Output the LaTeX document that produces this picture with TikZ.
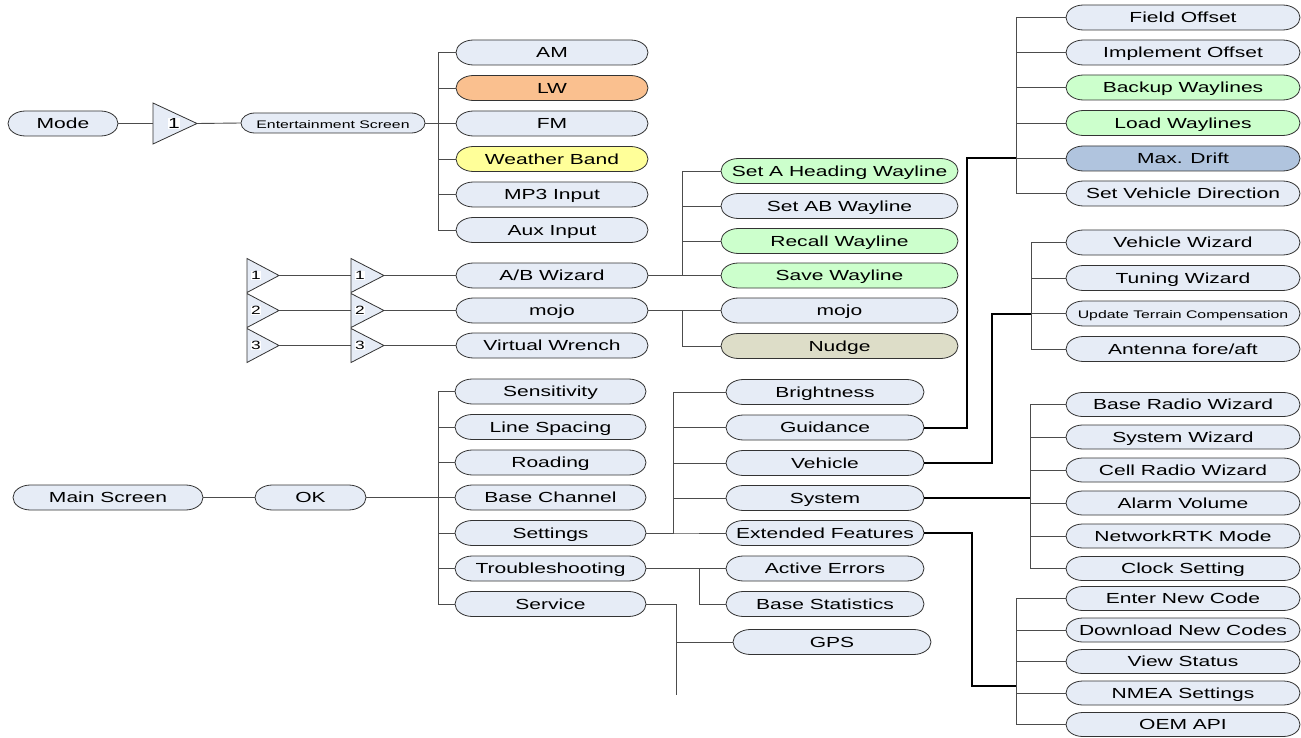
\documentclass[tikz,border=0pt]{standalone}
\usepackage{fontspec}
\setmainfont{Liberation Sans}[FakeStretch=1.44]
\usetikzlibrary{calc}
\definecolor{pillbg}{RGB}{230,236,246}
\definecolor{pillor}{RGB}{250,192,143}
\definecolor{pillye}{RGB}{255,255,153}
\definecolor{pillgr}{RGB}{204,255,204}
\definecolor{pillbl}{RGB}{176,196,222}
\definecolor{pillkh}{RGB}{221,221,200}
\newcommand\sm{\fontsize{11}{13}\selectfont}
\newcommand\pill[7]{%
  \path[pillbord, fill=#6] ({#2-#4/2+0.7*#5},{#3-#5/2}) -- ({#2+#4/2-0.7*#5},{#3-#5/2})
    arc[start angle=90, end angle=-90, x radius={0.7*#5pt}, y radius={0.5*#5pt}]
    -- ({#2-#4/2+0.7*#5},{#3+#5/2})
    arc[start angle=270, end angle=90, x radius={0.7*#5pt}, y radius={0.5*#5pt}] -- cycle;
  \node[pilltext, minimum width=#4pt, minimum height=#5pt] (#1) at (#2,#3) {#7};}
\tikzset{
  pillbord/.style={draw=black!80, line width=0.8pt},
  pilltext/.style={inner sep=0pt, font=\fontsize{14.6}{16}\selectfont, text height=10.4pt, text depth=0pt},
  conn/.style={draw=black!70, line width=0.9pt},
  midconn/.style={draw=black, line width=1.3pt},
  thickconn/.style={draw=black, line width=2pt},
  tribord/.style={draw=black!80, line width=0.8pt, fill=pillbg},
  trilab/.style={fill=white, inner sep=0.6pt, text height=8.5pt, text depth=0pt, font=\fontsize{12}{14}\selectfont},
}
\begin{document}
\begin{tikzpicture}[x=1pt,y=-1pt]
\useasboundingbox (0,0) rectangle (1301,738);
\fill[white] (0,0) rectangle (1301,738);

% ---- Entertainment branch
\pill{mode}{63}{123.5}{110}{25}{pillbg}{Mode}
\draw[tribord] (153,103) -- (197,123.5) -- (153,144) -- cycle;
\coordinate (t0in) at (153,123.5);
\coordinate (t0out) at (197,123.5);
\node[trilab, font=\fontsize{14.6}{16}\selectfont, text height=10.4pt] (t0) at (174,123.5) {1};
\pill{ent}{333}{123}{184}{20}{pillbg}{\sm Entertainment Screen}
\pill{am}{552}{52.5}{192}{25}{pillbg}{AM}
\pill{lw}{552}{88}{192}{25}{pillor}{LW}
\pill{fm}{552}{123.5}{192}{25}{pillbg}{FM}
\pill{wb}{552}{159}{192}{25}{pillye}{Weather Band}
\pill{mp}{552}{194.5}{192}{25}{pillbg}{MP3 Input}
\pill{aux}{552}{230}{192}{25}{pillbg}{Aux Input}
\draw[conn] (mode.east) -- (t0in);
\draw[conn] (t0out) -- (ent.west);
\coordinate (b1) at (438,0);
\foreach \c in {am,lw,fm,wb,mp,aux} \draw[conn] (ent.east) -- (ent.east -| b1) |- (\c.west);

% ---- connector triangles
\pill{abw}{552}{275.5}{192}{25}{pillbg}{A/B Wizard}
\pill{mojo}{552}{310.5}{192}{25}{pillbg}{mojo}
\pill{vw}{552}{345.5}{192}{25}{pillbg}{Virtual Wrench}
\foreach \y/\n/\t in {275.5/1/abw,310.5/2/mojo,345.5/3/vw}{
  \draw[tribord] (247,\y-17) -- (279,\y) -- (247,\y+17) -- cycle;
  \draw[tribord] (351,\y-17) -- (384,\y) -- (351,\y+17) -- cycle;
  \coordinate (ta\n) at (279,\y);
  \coordinate (tb\n i) at (351,\y);
  \coordinate (tb\n o) at (384,\y);
  \node[trilab] (la\n) at (256,\y) {\n};
  \node[trilab] (lb\n) at (360,\y) {\n};
  \draw[conn] (ta\n) -- (tb\n i);
  \draw[conn] (tb\n o) -- (\t.west);
}
\pill{sah}{839.5}{171}{237}{25}{pillgr}{Set A Heading Wayline}
\pill{sab}{839.5}{206}{237}{25}{pillbg}{Set AB Wayline}
\pill{rw}{839.5}{241}{237}{25}{pillgr}{Recall Wayline}
\pill{sw}{839.5}{275.5}{237}{25}{pillgr}{Save Wayline}
\pill{mojob}{839.5}{310.5}{237}{25}{pillbg}{mojo}
\pill{nud}{839.5}{346}{237}{25}{pillkh}{Nudge}
\coordinate (b2) at (682,0);
\foreach \c in {sah,sab,rw,sw} \draw[conn] (abw.east) -- (abw.east -| b2) |- (\c.west);
\foreach \c in {mojob,nud} \draw[conn] (mojo.east) -- (mojo.east -| b2) |- (\c.west);

% ---- Main screen
\pill{ms}{108}{497.5}{190}{25}{pillbg}{Main Screen}
\pill{ok}{310.5}{497.5}{111}{25}{pillbg}{OK}
\draw[conn] (ms.east) -- (ok.west);
\pill{sen}{550.5}{391.5}{191}{25}{pillbg}{Sensitivity}
\pill{ls}{550.5}{427}{191}{25}{pillbg}{Line Spacing}
\pill{road}{550.5}{462.5}{191}{25}{pillbg}{Roading}
\pill{bc}{550.5}{497.5}{191}{25}{pillbg}{Base Channel}
\pill{set}{550.5}{533}{191}{25}{pillbg}{Settings}
\pill{tr}{550.5}{568.5}{191}{25}{pillbg}{Troubleshooting}
\pill{ser}{550.5}{604}{191}{25}{pillbg}{Service}
\coordinate (b3) at (438,0);
\foreach \c in {sen,ls,road,bc,set,tr,ser} \draw[conn] (ok.east) -- (ok.east -| b3) |- (\c.west);

\pill{bri}{825}{392}{198}{25}{pillbg}{Brightness}
\pill{gui}{825}{427.5}{198}{25}{pillbg}{Guidance}
\pill{veh}{825}{463}{198}{25}{pillbg}{Vehicle}
\pill{sys}{825}{498}{198}{25}{pillbg}{System}
\pill{ext}{825}{533}{198}{25}{pillbg}{Extended Features}
\pill{ae}{825}{568.5}{198}{25}{pillbg}{Active Errors}
\pill{bs}{825}{604}{198}{25}{pillbg}{Base Statistics}
\pill{gps}{832}{642}{198}{25}{pillbg}{GPS}
\coordinate (b8) at (673,0);
\foreach \c in {bri,gui,veh,sys,ext} \draw[conn] (set.east) -- (set.east -| b8) |- (\c.west);
\coordinate (b9) at (699,0);
\foreach \c in {ae,bs} \draw[conn] (tr.east) -- (tr.east -| b9) |- (\c.west);
\coordinate (sv) at (676,695);
\draw[conn] (ser.east) -| (sv);
\draw[conn] (ser.east -| sv) |- (gps.west);

% ---- Guidance group
\pill{fo}{1183}{17.5}{234}{25}{pillbg}{Field Offset}
\pill{io}{1183}{52.5}{234}{25}{pillbg}{Implement Offset}
\pill{bw}{1183}{87.5}{234}{25}{pillgr}{Backup Waylines}
\pill{lwl}{1183}{123}{234}{25}{pillgr}{Load Waylines}
\pill{md}{1183}{158.5}{234}{25}{pillbl}{Max. Drift}
\pill{svd}{1183}{193.5}{234}{25}{pillbg}{Set Vehicle Direction}
\coordinate (b4) at (1016,0);
\coordinate (g1) at (967,158.5);
\draw[conn] (fo.west -| b4) -- (svd.west -| b4);
\foreach \c in {fo,io,bw,lwl,md,svd} \draw[conn] (\c.west -| b4) -- (\c.west);
\draw[thickconn] (gui.east) -| (g1) -- (g1 -| b4);

% ---- Vehicle group
\pill{vwz}{1183}{242.5}{234}{25}{pillbg}{Vehicle Wizard}
\pill{tw}{1183}{278}{234}{25}{pillbg}{Tuning Wizard}
\pill{utc}{1183}{313.5}{234}{25}{pillbg}{\sm Update Terrain Compensation}
\pill{afa}{1183}{349}{234}{25}{pillbg}{Antenna fore/aft}
\coordinate (b5) at (1031,0);
\coordinate (g2) at (992,313.5);
\draw[conn] (vwz.west -| b5) -- (afa.west -| b5);
\foreach \c in {vwz,tw,utc,afa} \draw[conn] (\c.west -| b5) -- (\c.west);
\draw[thickconn] (veh.east) -| (g2) -- (g2 -| b5);

% ---- System group
\pill{brw}{1183}{404.5}{234}{24}{pillbg}{Base Radio Wizard}
\pill{syw}{1183}{437}{234}{24}{pillbg}{System Wizard}
\pill{crw}{1183}{470}{234}{24}{pillbg}{Cell Radio Wizard}
\pill{av}{1183}{503}{234}{24}{pillbg}{Alarm Volume}
\pill{nrtk}{1183}{536}{234}{24}{pillbg}{NetworkRTK Mode}
\pill{cs}{1183}{568.5}{234}{24}{pillbg}{Clock Setting}
\coordinate (b6) at (1030,0);
\draw[conn] (brw.west -| b6) -- (cs.west -| b6);
\foreach \c in {brw,syw,crw,av,nrtk,cs} \draw[conn] (\c.west -| b6) -- (\c.west);
\draw[midconn] (sys.east) -- (sys.east -| b6);

% ---- Extended group
\pill{enc}{1183}{598.5}{234}{24}{pillbg}{Enter New Code}
\pill{dnc}{1183}{630}{234}{24}{pillbg}{Download New Codes}
\pill{vs}{1183}{661.5}{234}{24}{pillbg}{View Status}
\pill{nmea}{1183}{693}{234}{24}{pillbg}{NMEA Settings}
\pill{oem}{1183}{724.5}{234}{24}{pillbg}{OEM API}
\coordinate (b7) at (1016,0);
\coordinate (g3) at (972,686);
\draw[conn] (enc.west -| b7) -- (oem.west -| b7);
\foreach \c in {enc,dnc,vs,nmea,oem} \draw[conn] (\c.west -| b7) -- (\c.west);
\draw[thickconn] (ext.east) -| (g3) -- (g3 -| b7);
\end{tikzpicture}
\end{document}
